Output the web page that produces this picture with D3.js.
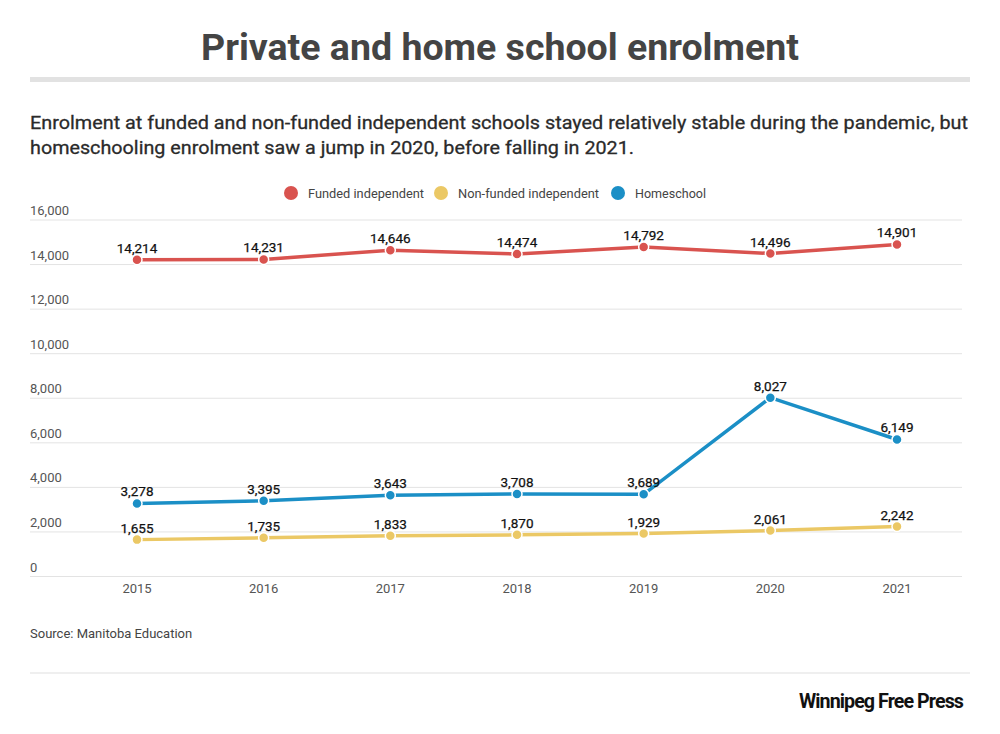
<!DOCTYPE html>
<html>
<head>
<meta charset="utf-8">
<script src="https://cdn.jsdelivr.net/npm/d3@7"></script>
<style>
  body { margin: 0; background: #fff; }
  text { font-family: Roboto, "Noto Sans", sans-serif; }
</style>
</head>
<body>
<div id="container"></div>
<script>
/**
 * CONSTANTS AND GLOBALS
 * */
const width = 1000,
  height = 734,
  margin = { top: 220, bottom: 158, left: 30, right: 38 };

const years = ["2015", "2016", "2017", "2018", "2019", "2020", "2021"];
const funded = [14214, 14231, 14646, 14474, 14792, 14496, 14901];
const nonFunded = [1655, 1735, 1833, 1870, 1929, 2061, 2242];
const homeschool = [3278, 3395, 3643, 3708, 3689, 8027, 6149];
const yTicks = [0, 2000, 4000, 6000, 8000, 10000, 12000, 14000, 16000];

const seriesNames = ["Funded independent", "Non-funded independent", "Homeschool"];
const colors = ["#d9534f", "#ebc865", "#1b8fc6"];

// draw order: yellow, blue, red
const series = [
  { name: seriesNames[1], values: nonFunded, color: colors[1] },
  { name: seriesNames[2], values: homeschool, color: colors[2] },
  { name: seriesNames[0], values: funded, color: colors[0] },
];

const svg = d3.select("#container")
  .append("svg")
  .attr("width", width)
  .attr("height", height);

// title
svg.append("text")
  .attr("x", 500)
  .attr("y", 60)
  .attr("text-anchor", "middle")
  .attr("font-size", 36)
  .attr("font-weight", 700)
  .attr("fill", "#444")
  .attr("textLength", 598)
  .attr("lengthAdjust", "spacingAndGlyphs")
  .text("Private and home school enrolment");

svg.append("rect")
  .attr("x", 30).attr("y", 77)
  .attr("width", 940).attr("height", 5)
  .attr("fill", "#e2e2e2");

// subtitle
const sub = [
  "Enrolment at funded and non-funded independent schools stayed relatively stable during the pandemic, but",
  "homeschooling enrolment saw a jump in 2020, before falling in 2021."
];
svg.append("text")
  .attr("x", 30).attr("y", 129)
  .attr("font-size", 19)
  .attr("fill", "#2a2a2a")
  .attr("stroke", "#2a2a2a")
  .attr("stroke-width", 0.3)
  .attr("textLength", 938)
  .attr("lengthAdjust", "spacingAndGlyphs")
  .text(sub[0]);
svg.append("text")
  .attr("x", 30).attr("y", 154)
  .attr("font-size", 19)
  .attr("fill", "#2a2a2a")
  .attr("stroke", "#2a2a2a")
  .attr("stroke-width", 0.3)
  .attr("textLength", 604)
  .attr("lengthAdjust", "spacingAndGlyphs")
  .text(sub[1]);

// legend
const legendX = [291, 441, 618];
const legendW = [116, 141, 71];
const legend = svg.append("g");
seriesNames.forEach((name, i) => {
  legend.append("circle")
    .attr("cx", legendX[i]).attr("cy", 193).attr("r", 7)
    .attr("fill", colors[i]);
  legend.append("text")
    .attr("x", legendX[i] + 17).attr("y", 198)
    .attr("font-size", 13)
    .attr("fill", "#444")
    .attr("textLength", legendW[i])
    .attr("lengthAdjust", "spacingAndGlyphs")
    .text(name);
});

// scales
const x = d3.scalePoint()
  .domain(years)
  .range([137, 897]);

const y = d3.scaleLinear()
  .domain([0, 16000])
  .range([576.5, 220]);

// grid + y labels
const grid = svg.append("g");
grid.selectAll("line")
  .data(yTicks)
  .join("line")
  .attr("x1", 30).attr("x2", 962)
  .attr("y1", d => y(d)).attr("y2", d => y(d))
  .attr("stroke", "#e3e3e3")
  .attr("stroke-width", 1);
grid.selectAll("text")
  .data(yTicks)
  .join("text")
  .attr("x", 30)
  .attr("y", d => y(d) - 5)
  .attr("font-size", 13)
  .attr("fill", "#555")
  .text(d => d3.format(",")(d));

// x axis labels
svg.append("g")
  .selectAll("text")
  .data(years)
  .join("text")
  .attr("x", d => x(d))
  .attr("y", 593)
  .attr("text-anchor", "middle")
  .attr("font-size", 13)
  .attr("fill", "#555")
  .text(d => d);

// lines
const line = d3.line()
  .x((d, i) => x(years[i]))
  .y(d => y(d));

series.forEach(s => {
  const g = svg.append("g");
  g.append("path")
    .attr("d", line(s.values))
    .attr("fill", "none")
    .attr("stroke", s.color)
    .attr("stroke-width", 3.5);
  g.selectAll("circle")
    .data(s.values)
    .join("circle")
    .attr("cx", (d, i) => x(years[i]))
    .attr("cy", d => y(d))
    .attr("r", 5)
    .attr("fill", s.color)
    .attr("stroke", "#fff")
    .attr("stroke-width", 1.5);
  g.selectAll("text")
    .data(s.values)
    .join("text")
    .attr("x", (d, i) => x(years[i]))
    .attr("y", d => y(d) - 7)
    .attr("text-anchor", "middle")
    .attr("font-size", 13.5)
    .attr("fill", "#111")
    .attr("stroke", "#111")
    .attr("stroke-width", 0.25)
    .text(d => d3.format(",")(d));
});

// source
svg.append("text")
  .attr("x", 30).attr("y", 638)
  .attr("font-size", 13)
  .attr("fill", "#444")
  .text("Source: Manitoba Education");

svg.append("rect")
  .attr("x", 30).attr("y", 672)
  .attr("width", 940).attr("height", 2)
  .attr("fill", "#efefef");

// logo
svg.append("text")
  .attr("x", 963).attr("y", 708)
  .attr("text-anchor", "end")
  .attr("font-size", 21)
  .attr("font-weight", 700)
  .attr("fill", "#111")
  .attr("letter-spacing", -1)
  .attr("textLength", 164)
  .attr("lengthAdjust", "spacingAndGlyphs")
  .text("Winnipeg Free Press");
</script>
</body>
</html>
